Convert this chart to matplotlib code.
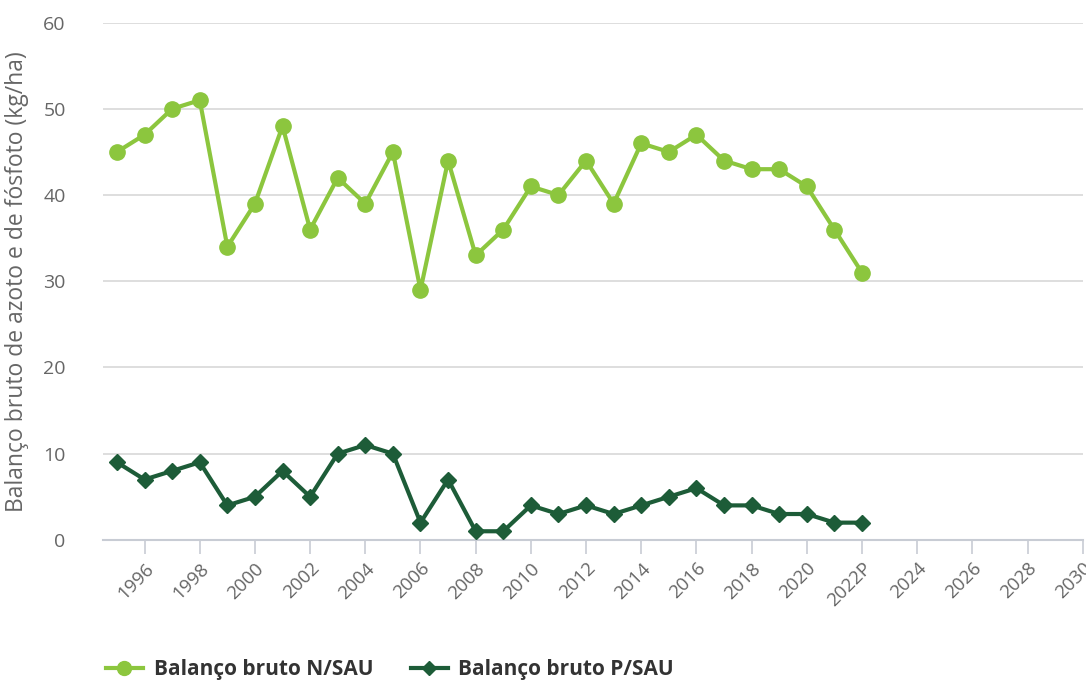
import numpy as np
from matplotlib import pyplot as plt
from matplotlib.lines import Line2D

years = list(range(1995, 2023))
n_sau = [45, 47, 50, 51, 34, 39, 48, 36, 42, 39, 45, 29, 44, 33, 36,
         41, 40, 44, 39, 46, 45, 47, 44, 43, 43, 41, 36, 31]
p_sau = [9, 7, 8, 9, 4, 5, 8, 5, 10, 11, 10, 2, 7, 1, 1,
         4, 3, 4, 3, 4, 5, 6, 4, 4, 3, 3, 2, 2]
tick_years = list(range(1996, 2031, 2))
tick_labels = [str(y) + ('P' if y == 2022 else '') for y in tick_years]

c_n = '#8cc63e'
c_p = '#1d5c38'
grey = '#666666'

plt.rcParams['font.family'] = ['Open Sans', 'DejaVu Sans']

fig = plt.figure(figsize=(10.86, 6.86), dpi=100)
ax = fig.add_axes([0.095, 0.213, 0.902, 0.754])

ax.plot(years, n_sau, color=c_n, lw=3, marker='o', ms=11, zorder=3)
ax.plot(years, p_sau, color=c_p, lw=3, marker='D', ms=8, zorder=3)

ax.set_xlim(1994.5, 2030)
ax.set_ylim(0, 60)
ax.set_yticks(range(0, 61, 10))
ax.set_xticks(tick_years)
ax.set_xticklabels(tick_labels, rotation=45, ha='right', rotation_mode='anchor')
ax.tick_params(axis='x', colors='#c8ccd4', length=10, width=1.2, pad=4,
               labelcolor=grey, labelsize=13.5)
ax.tick_params(axis='y', length=0, labelcolor=grey, labelsize=14, pad=27)

ax.grid(axis='y', color='#d8d8d8', lw=1.2)
ax.set_axisbelow(True)
for s in ['top', 'right', 'left']:
    ax.spines[s].set_visible(False)
ax.spines['bottom'].set_color('#c8ccd4')
ax.spines['bottom'].set_linewidth(1.5)

ax.set_ylabel('Balanço bruto de azoto e de fósfoto (kg/ha)', color=grey, fontsize=16.5)
ax.yaxis.set_label_coords(-0.076, 0.5)

handles = [Line2D([], [], color=c_n, lw=3, marker='o', ms=10),
           Line2D([], [], color=c_p, lw=3, marker='D', ms=7)]
fig.legend(handles, ['Balanço bruto N/SAU', 'Balanço bruto P/SAU'],
           loc='center left', bbox_to_anchor=(0.08, 0.024), ncol=2, frameon=False,
           prop={'weight': 'bold', 'size': 15}, labelcolor='#333333',
           handlelength=1.8, columnspacing=1.8, handletextpad=0.5)

fig.savefig('out.png', dpi=100)
